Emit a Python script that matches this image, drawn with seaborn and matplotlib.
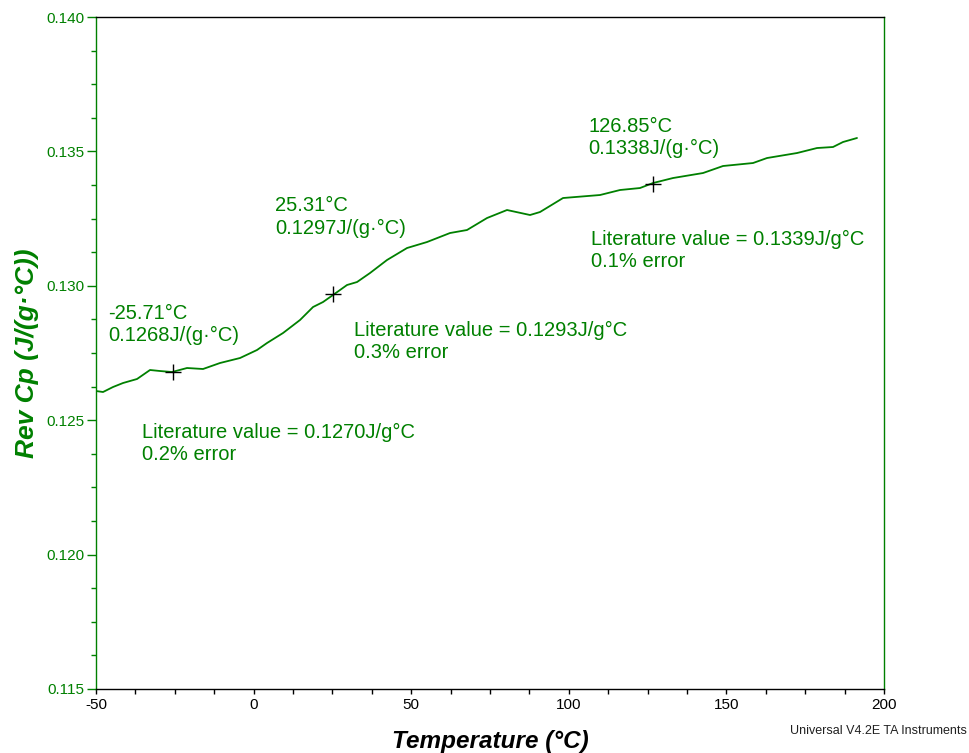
import matplotlib
matplotlib.use("Agg")
import matplotlib.pyplot as plt
from matplotlib.ticker import MultipleLocator, FormatStrFormatter
import seaborn as sns
import pandas as pd

# ---- data ----
temperature = [-50.0, -47.78, -44.61, -41.43, -36.99, -32.87, -29.70, -25.89, -21.13, -16.05,
               -10.66, -4.31, 1.08, 4.25, 9.33, 14.72, 18.85, 22.02, 25.19, 29.63,
               32.81, 36.93, 42.32, 48.67, 55.01, 62.31, 67.70, 74.05, 80.39, 87.69,
               90.86, 98.16, 109.90, 116.24, 122.59, 126.71, 133.06, 142.58, 148.92, 158.44,
               162.88, 172.40, 178.74, 183.82, 186.99, 191.43]
rev_cp = [0.126086, 0.126049, 0.126235, 0.126384, 0.126533, 0.126868, 0.126830, 0.126793, 0.126942, 0.126905,
          0.127128, 0.127314, 0.127612, 0.127872, 0.128244, 0.128728, 0.129211, 0.129397, 0.129658, 0.130030,
          0.130141, 0.130476, 0.130960, 0.131406, 0.131629, 0.131964, 0.132076, 0.132522, 0.132820, 0.132634,
          0.132745, 0.133266, 0.133378, 0.133564, 0.133638, 0.133824, 0.134010, 0.134196, 0.134457, 0.134568,
          0.134754, 0.134940, 0.135126, 0.135164, 0.135350, 0.135499]

marker_temp = [-25.71, 25.31, 126.85]
marker_cp = [0.1268, 0.1297, 0.1338]
literature = [0.1270, 0.1293, 0.1339]
error_pct = [0.2, 0.3, 0.1]

GREEN = "#008000"

sns.set_style("white")
plt.rcParams["font.family"] = ["Liberation Sans", "DejaVu Sans"]
plt.rcParams["axes.unicode_minus"] = False

fig = plt.figure(figsize=(9.69, 7.53), dpi=100)
ax = fig.add_axes([0.0991, 0.0850, 0.9123 - 0.0991, 0.9774 - 0.0850])

df = pd.DataFrame({"T": temperature, "Cp": rev_cp})
sns.lineplot(data=df, x="T", y="Cp", color=GREEN, linewidth=1.3, ax=ax)

mdf = pd.DataFrame({"T": marker_temp, "Cp": marker_cp})
sns.scatterplot(data=mdf, x="T", y="Cp", marker="+", color="black", s=130,
                linewidth=1.0, ax=ax, zorder=5)

ax.set_xlim(-50, 200)
ax.set_ylim(0.115, 0.140)
ax.xaxis.set_major_locator(MultipleLocator(50))
ax.xaxis.set_minor_locator(MultipleLocator(12.5))
ax.yaxis.set_major_locator(MultipleLocator(0.005))
ax.yaxis.set_minor_locator(MultipleLocator(0.00125))
ax.yaxis.set_major_formatter(FormatStrFormatter("%.3f"))

ax.tick_params(axis="x", which="both", direction="out", length=3.8, width=1.0,
               colors="black", labelsize=11, pad=3, bottom=True)
ax.tick_params(axis="y", which="major", direction="out", length=6.5, width=1.0,
               colors=GREEN, labelsize=11, pad=2, left=True)
ax.tick_params(axis="y", which="minor", direction="out", length=3.8, width=1.0,
               colors=GREEN, left=True)

for side in ["left", "right"]:
    ax.spines[side].set_color(GREEN)
    ax.spines[side].set_linewidth(1.0)
for side in ["top", "bottom"]:
    ax.spines[side].set_color("black")
    ax.spines[side].set_linewidth(1.0)

ax.set_xlabel("Temperature (°C)", fontsize=17.5, fontweight="bold", fontstyle="italic",
              color="black", labelpad=13)
ax.set_ylabel("Rev Cp (J/(g·°C))", fontsize=19, fontweight="bold", fontstyle="italic",
              color=GREEN, labelpad=5)

# annotations
value_pos = [(-46.2, 0.12856), (6.8, 0.13256), (106.1, 0.135517)]
lit_pos = [(-35.4, 0.124152), (31.85, 0.127928), (107.0, 0.131313)]
for (t, c, lit, err, vp, lp) in zip(marker_temp, marker_cp, literature, error_pct, value_pos, lit_pos):
    ax.text(vp[0], vp[1], f"{t:.2f}°C\n{c:.4f}J/(g·°C)", color=GREEN, fontsize=14.5,
            ha="left", va="center", linespacing=1.2)
    ax.text(lp[0], lp[1], f"Literature value = {lit:.4f}J/g°C\n{err:.1f}% error", color=GREEN,
            fontsize=14.5, ha="left", va="center", linespacing=1.2)

fig.text(967 / 969, 1 - 731 / 753, "Universal V4.2E TA Instruments", fontsize=9,
         color="#202020", ha="right", va="center")

fig.savefig("out.png", dpi=100)
